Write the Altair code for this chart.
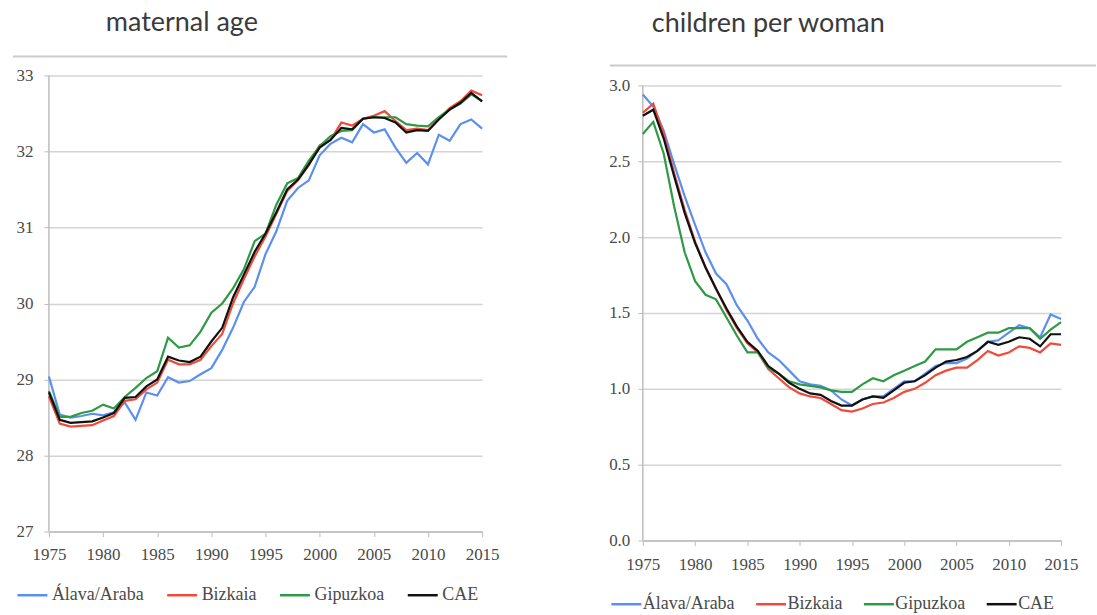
import altair as alt
import pandas as pd

years = list(range(1975, 2016))
regions = ["Álava/Araba", "Bizkaia", "Gipuzkoa", "CAE"]
colors = ["#5b8ff0", "#f04a3a", "#2f9a44", "#111111"]

# Mean maternal age at childbirth, 1975-2015
age_alava = [29.04, 28.54, 28.50, 28.52, 28.55, 28.53, 28.57, 28.70, 28.47, 28.83,
             28.79, 29.03, 28.96, 28.98, 29.07, 29.15, 29.39, 29.68, 30.02, 30.22,
             30.65, 30.95, 31.35, 31.52, 31.62, 31.95, 32.10, 32.18, 32.12, 32.36,
             32.25, 32.29, 32.05, 31.85, 31.98, 31.83, 32.22, 32.14, 32.36, 32.42, 32.30]
age_bizkaia = [28.78, 28.42, 28.38, 28.39, 28.40, 28.46, 28.52, 28.72, 28.74, 28.87,
               28.96, 29.26, 29.20, 29.20, 29.26, 29.44, 29.60, 30.00, 30.32, 30.62,
               30.88, 31.18, 31.48, 31.62, 31.82, 32.08, 32.15, 32.38, 32.34, 32.43,
               32.47, 32.53, 32.40, 32.28, 32.30, 32.28, 32.43, 32.57, 32.66, 32.80, 32.74]
age_gipuzkoa = [28.85, 28.51, 28.51, 28.56, 28.59, 28.67, 28.62, 28.77, 28.89, 29.02,
                29.11, 29.55, 29.42, 29.45, 29.63, 29.88, 30.00, 30.20, 30.45, 30.82,
                30.92, 31.30, 31.58, 31.65, 31.88, 32.07, 32.20, 32.27, 32.28, 32.43,
                32.45, 32.45, 32.45, 32.36, 32.34, 32.33, 32.45, 32.55, 32.63, 32.75, 32.66]
age_cae = [28.83, 28.47, 28.43, 28.44, 28.45, 28.50, 28.56, 28.76, 28.77, 28.91,
           29.00, 29.30, 29.25, 29.23, 29.30, 29.50, 29.68, 30.08, 30.38, 30.68,
           30.92, 31.20, 31.50, 31.63, 31.83, 32.05, 32.15, 32.31, 32.29, 32.43,
           32.45, 32.44, 32.38, 32.25, 32.28, 32.27, 32.42, 32.55, 32.64, 32.77, 32.66]

# Total fertility rate (children per woman), 1975-2015
tfr_alava = [2.94, 2.86, 2.70, 2.48, 2.27, 2.08, 1.90, 1.76, 1.69, 1.55,
             1.45, 1.33, 1.24, 1.19, 1.12, 1.05, 1.03, 1.02, 0.99, 0.93,
             0.89, 0.93, 0.95, 0.95, 1.00, 1.05, 1.05, 1.10, 1.15, 1.17,
             1.17, 1.20, 1.25, 1.31, 1.32, 1.37, 1.42, 1.40, 1.34, 1.49, 1.46]
tfr_bizkaia = [2.82, 2.88, 2.68, 2.42, 2.18, 1.97, 1.80, 1.66, 1.52, 1.40,
               1.30, 1.24, 1.13, 1.07, 1.01, 0.97, 0.95, 0.94, 0.90, 0.86,
               0.85, 0.87, 0.90, 0.91, 0.94, 0.98, 1.00, 1.04, 1.09, 1.12,
               1.14, 1.14, 1.19, 1.25, 1.22, 1.24, 1.28, 1.27, 1.24, 1.30, 1.29]
tfr_gipuzkoa = [2.68, 2.76, 2.55, 2.20, 1.90, 1.71, 1.62, 1.59, 1.47, 1.35,
                1.24, 1.24, 1.14, 1.10, 1.05, 1.03, 1.02, 1.01, 0.99, 0.98,
                0.98, 1.03, 1.07, 1.05, 1.09, 1.12, 1.15, 1.18, 1.26, 1.26,
                1.26, 1.31, 1.34, 1.37, 1.37, 1.40, 1.40, 1.40, 1.33, 1.39, 1.44]
tfr_cae = [2.80, 2.84, 2.65, 2.40, 2.16, 1.96, 1.80, 1.66, 1.53, 1.41,
           1.31, 1.25, 1.15, 1.10, 1.04, 1.00, 0.97, 0.96, 0.92, 0.89,
           0.89, 0.93, 0.95, 0.94, 0.99, 1.04, 1.05, 1.09, 1.14, 1.18,
           1.19, 1.21, 1.25, 1.31, 1.29, 1.31, 1.34, 1.33, 1.28, 1.36, 1.36]

x_ticks = [1975, 1980, 1985, 1990, 1995, 2000, 2005, 2010, 2015]
age_ticks = [27, 28, 29, 30, 31, 32, 33]
tfr_ticks = [0.0, 0.5, 1.0, 1.5, 2.0, 2.5, 3.0]

SERIF = "Liberation Serif"
TEXT = "#4a4a4a"
AXIS = "#bdbdbd"


def long_table(series):
    rows = []
    for name, vals in zip(regions, series):
        for yr, v in zip(years, vals):
            rows.append({"year": yr, "region": name, "value": v})
    return pd.DataFrame(rows)


def panel(df, title, title_dx, title_offset, width, height, ydomain, yaxis_span,
          yticks, yfmt, ylabel_pad, xlabel_pad, frame_x, frame_x2, frame_y,
          legend_x, legend_y, legend_gap, legend_offset):
    lines = alt.Chart(df).mark_line(strokeWidth=2.2).encode(
        x=alt.X("year:Q",
                scale=alt.Scale(domain=[1975, 2015], nice=False, zero=False),
                axis=alt.Axis(values=x_ticks, format="d", title=None, grid=False,
                              labelFlush=False, domainColor=AXIS, domainWidth=1.5,
                              tickColor=AXIS, tickSize=5, labelPadding=xlabel_pad)),
        y=alt.Y("value:Q",
                scale=alt.Scale(domain=ydomain, nice=False, zero=False),
                axis=alt.Axis(values=yticks, format=yfmt, title=None, grid=True,
                              gridColor="#d4d4d4", gridWidth=1.5, domain=False,
                              labelFlush=False, tickColor=AXIS, tickSize=5,
                              labelPadding=ylabel_pad)),
        color=alt.Color("region:N", sort=regions,
                        scale=alt.Scale(domain=regions, range=colors),
                        legend=alt.Legend(title=None, orient="none",
                                          legendX=legend_x, legendY=legend_y,
                                          direction="horizontal",
                                          symbolType="stroke", symbolSize=900,
                                          symbolStrokeWidth=2.5,
                                          labelOffset=legend_offset,
                                          columnPadding=legend_gap, labelFont=SERIF,
                                          labelFontSize=18, labelColor=TEXT)),
    )
    # vertical axis line spanning the labelled range only
    yline = alt.Chart(pd.DataFrame({"k": [0]})).mark_rule(
        color=AXIS, strokeWidth=1.5
    ).encode(x=alt.value(0), y=alt.datum(yaxis_span[1]), y2=alt.datum(yaxis_span[0]))
    # thin grey frame line above the plot
    frame = alt.Chart(pd.DataFrame({"k": [0]})).mark_rule(
        color="#cccccc", strokeWidth=2
    ).encode(x=alt.value(frame_x), x2=alt.value(frame_x2), y=alt.value(frame_y))
    return alt.layer(frame, yline, lines).properties(
        width=width, height=height,
        title=alt.TitleParams(text=title, anchor="start", frame="group",
                              dx=title_dx, offset=title_offset, font="Lato",
                              fontSize=27, fontWeight="normal", color="#3a3a3a"),
    )


left = panel(long_table([age_alava, age_bizkaia, age_gipuzkoa, age_cae]),
             "maternal age", 57, 19, 434, 457, [27, 33], [27, 33], age_ticks, "d",
             11, 10, -36, 459, -19, -33, 504, 18, 3)
right = panel(long_table([tfr_alava, tfr_bizkaia, tfr_gipuzkoa, tfr_cae]),
              "children per woman", 9, 27, 419, 466, [0, 3.0658], [0, 3.0],
              tfr_ticks, ".1f", 8, 11, -33, 454, -10, -33, 513, 16, 0)

chart = alt.hconcat(left, right, spacing=100).resolve_scale(
    color="independent"
).resolve_legend(color="independent").properties(
    padding={"left": 12, "top": 8, "right": 0, "bottom": 0},
    background="white",
).configure_view(stroke=None).configure_axis(
    labelFont=SERIF, labelFontSize=17, labelColor=TEXT
)

chart.save("out.html", embed_options={"renderer": "svg", "actions": False})
